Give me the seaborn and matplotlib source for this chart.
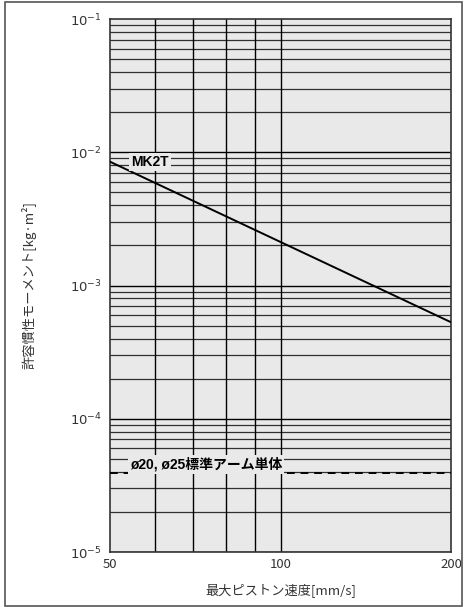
import numpy as np
import pandas as pd
import matplotlib
matplotlib.use("Agg")
import matplotlib.pyplot as plt
import matplotlib.ticker as mticker
from matplotlib.patches import Rectangle
import seaborn as sns

# data
speed = [50, 200]                      # mm/s
mk2t_moment = [8.5e-3, 5.3e-4]         # kg·m²
arm_moment = [3.9e-5, 3.9e-5]          # kg·m²
x_grid = [60, 70, 80, 90, 100]
x_ticks = [50, 100, 200]
y_ticks = [1e-5, 1e-4, 1e-3, 1e-2, 1e-1]

sns.set_theme(style="white")
plt.rcParams['font.family'] = ['Noto Sans CJK JP', 'DejaVu Sans']
plt.rcParams['mathtext.fontset'] = 'dejavusans'

BG = '#e8e9e8'
LABEL_FONT = ['Liberation Sans', 'Noto Sans CJK JP']

fig = plt.figure(figsize=(4.66, 6.07), dpi=100)
ax = fig.add_axes([0.236, 0.0906, 0.732, 0.878])
ax.set_facecolor(BG)

df1 = pd.DataFrame({'speed': speed, 'moment': mk2t_moment})
df2 = pd.DataFrame({'speed': speed, 'moment': arm_moment})
sns.lineplot(data=df1, x='speed', y='moment', color='black', lw=1.4, ax=ax, zorder=5)
sns.lineplot(data=df2, x='speed', y='moment', color='black', lw=1.4, ax=ax,
             linestyle=(0, (4, 3)), zorder=5)

ax.set_xscale('log')
ax.set_yscale('log')
ax.set_xlim(50, 200)
ax.set_ylim(1e-5, 1e-1)

# grid lines
for dec in range(-5, -1):
    for m in range(2, 10):
        ax.axhline(m * 10.0 ** dec, color='#303030', lw=0.9, zorder=1)
    ax.axhline(10.0 ** dec, color='black', lw=1.0, zorder=1)
for xv in x_grid:
    ax.axvline(xv, color='black', lw=1.0, zorder=1)

ax.xaxis.set_major_locator(mticker.FixedLocator(x_ticks))
ax.xaxis.set_major_formatter(mticker.FixedFormatter([str(v) for v in x_ticks]))
ax.xaxis.set_minor_locator(mticker.NullLocator())
ax.yaxis.set_major_locator(mticker.FixedLocator(y_ticks))
ax.yaxis.set_major_formatter(mticker.FixedFormatter(
    [r'$10^{-%d}$' % k for k in (5, 4, 3, 2, 1)]))
ax.yaxis.set_minor_locator(mticker.NullLocator())
ax.tick_params(length=0, labelsize=9.5, colors='#333333', pad=6)
ax.tick_params(axis='x', pad=4)

for s in ax.spines.values():
    s.set_color('#333333')
    s.set_linewidth(1.2)

ax.set_xlabel('最大ピストン速度[mm/s]', fontsize=9.5, color='#333333', labelpad=9)
ax.set_ylabel('許容慣性モーメント[kg·m²]', fontsize=9.5, color='#333333', labelpad=24)

box = dict(facecolor=BG, edgecolor='none', pad=1.5)
ax.text(58.8, 8.4e-3, 'MK2T', fontsize=10, fontweight='bold', ha='center',
        va='center', color='black', family=LABEL_FONT, bbox=box, zorder=6)
ax.text(73.8, 4.55e-5, 'ø20, ø25標準アーム単体', fontsize=10, fontweight='bold',
        ha='center', va='center', color='black', family=LABEL_FONT, bbox=box, zorder=6)

# outer frame of the figure
fig.patches.append(Rectangle((0.011, 0.001), 0.98, 0.996, transform=fig.transFigure,
                             fill=False, edgecolor='#555555', lw=1.2))

fig.savefig('out.png', dpi=100)
